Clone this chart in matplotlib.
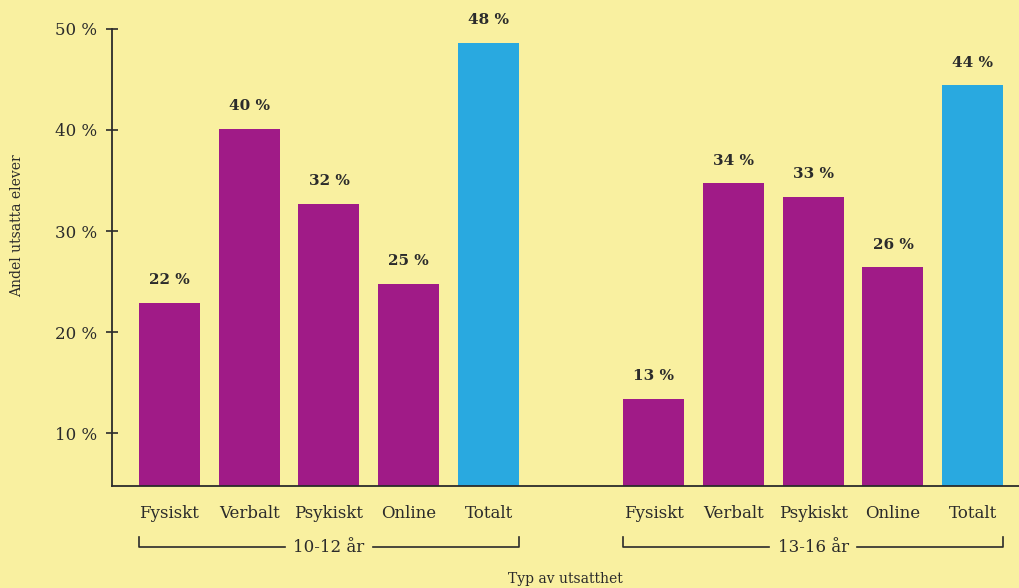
import numpy as np
import matplotlib
matplotlib.use("Agg")
import matplotlib.pyplot as plt
import matplotlib.transforms as mtransforms

categories = ["Fysiskt", "Verbalt", "Psykiskt", "Online", "Totalt"]
groups = ["10-12 år", "13-16 år"]
values_10_12 = [22.9, 40.1, 32.7, 24.8, 48.6]
values_13_16 = [13.4, 34.7, 33.4, 26.4, 44.4]
labels_10_12 = ["22 %", "40 %", "32 %", "25 %", "48 %"]
labels_13_16 = ["13 %", "34 %", "33 %", "26 %", "44 %"]
yticks = [10, 20, 30, 40, 50]
ytick_labels = ["10 %", "20 %", "30 %", "40 %", "50 %"]

bg = "#F9F0A0"
purple = "#A01B87"
blue = "#29A9E0"
ink = "#2B2B2B"

plt.rcParams['font.family'] = ['DejaVu Serif']

fig = plt.figure(figsize=(10.19, 5.88), dpi=100, facecolor=bg)
ax = fig.add_axes([112/1019, (588-486)/588, 1 - 112/1019, (486-28.7)/588])
ax.set_facecolor(bg)

x1 = np.arange(5)
x2 = np.arange(5) + 6.07
colors = [purple]*4 + [blue]
ax.bar(x1, values_10_12, width=0.765, color=colors, bottom=0, zorder=2)
ax.bar(x2, values_13_16, width=0.765, color=colors, bottom=0, zorder=2)

for xs, vals, labs in [(x1, values_10_12, labels_10_12), (x2, values_13_16, labels_13_16)]:
    for x, v, l in zip(xs, vals, labs):
        ax.annotate(l, (x, v), xytext=(0, 13.5), textcoords="offset points",
                    ha="center", va="baseline", fontsize=11, fontweight="bold", color=ink)

ax.set_xlim(-0.72, 10.65)
ax.set_ylim(4.8, 50)
for s in ["top", "right"]:
    ax.spines[s].set_visible(False)
ax.spines["left"].set_bounds(4.8, 50)
ax.spines["left"].set_color(ink)
ax.spines["bottom"].set_color(ink)
ax.spines["left"].set_linewidth(1.3)
ax.spines["bottom"].set_linewidth(1.3)

ax.set_yticks(yticks)
ax.set_yticklabels(ytick_labels)
ax.tick_params(axis="y", direction="inout", length=8, width=1.2, color=ink,
               labelsize=12, labelcolor=ink, pad=7)
ax.set_xticks([])

# category labels and group brackets
trans = mtransforms.blended_transform_factory(ax.transData, fig.transFigure)
for xs in [x1, x2]:
    for x, c in zip(xs, categories):
        ax.text(x, (588-513)/588, c, transform=trans, ha="center", va="center",
                fontsize=12, color=ink)

y_line = (588-547)/588
y_tick = (588-537)/588
for xs, g in zip([x1, x2], groups):
    left = xs[0] - 0.765/2
    right = xs[-1] + 0.765/2
    mid = (left + right) / 2
    gap = 0.55
    ax.plot([left, left, mid - gap], [y_tick, y_line, y_line], transform=trans,
            color=ink, lw=1.2, clip_on=False)
    ax.plot([mid + gap, right, right], [y_line, y_line, y_tick], transform=trans,
            color=ink, lw=1.2, clip_on=False)
    ax.text(mid, y_line, g, transform=trans, ha="center", va="center",
            fontsize=12, color=ink)

fig.text(565/1019, (588-579)/588, "Typ av utsatthet", ha="center", va="center",
         fontsize=10, color=ink)
fig.text(17/1019, (588-226)/588, "Andel utsatta elever", ha="center", va="center",
         rotation=90, fontsize=10, color=ink)

fig.savefig("out.png", dpi=100, facecolor=bg)
